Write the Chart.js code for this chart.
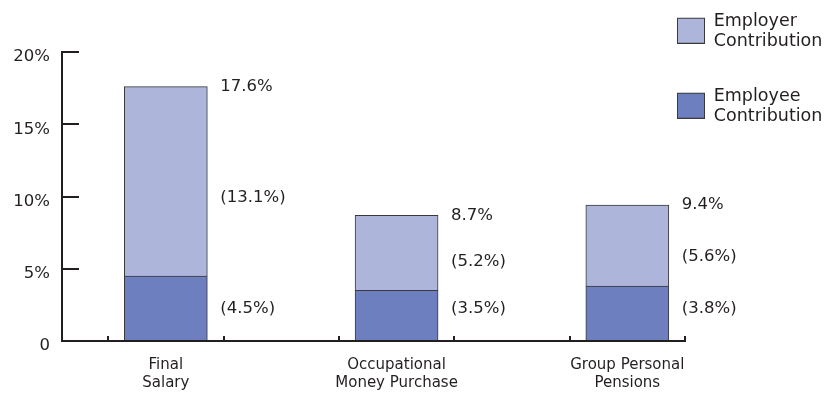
<!DOCTYPE html>
<html><head><meta charset="utf-8">
<script src="https://cdn.jsdelivr.net/npm/chart.js@4.4.1/dist/chart.umd.min.js"></script>
<style>html,body{margin:0;padding:0;background:#fff}#wrap{width:827px;height:393px;position:relative}</style>
</head><body><div id="wrap"><canvas id="c"></canvas></div>
<script>
// ---- data ----
const categories = [['Final', 'Salary'], ['Occupational', 'Money Purchase'], ['Group Personal', 'Pensions']];
const employee = [4.5, 3.5, 3.8];
const employer = [13.1, 5.2, 5.6];
const yTicks = [0, 5, 10, 15, 20];
const seriesNames = [['Employee', 'Contribution'], ['Employer', 'Contribution']];

// ---- styles ----
const FONT = "'DejaVu Sans', 'Open Sans', sans-serif";
const TEXT = '#231f20';
const AXIS = '#231f20';
const EDGE = '#3a3a3a';
const COL_EMPLOYEE = '#6d7fbe';
const COL_EMPLOYER = '#aeb5db';

// each category occupies two x units: tick at 2i, bar/label at 2i+0.5, tick at 2i+1
function slotX(i) { return 2 * i + 0.5; }
const xTickValues = [];
categories.forEach((c, i) => { xTickValues.push(2 * i, 2 * i + 0.5, 2 * i + 1); });
const xMax = 2 * categories.length - 1;

function swatch(fill, stroke) {
  const c = document.createElement('canvas');
  c.width = 28; c.height = 44;
  const g = c.getContext('2d');
  g.fillStyle = fill; g.fillRect(0, 18, 28, 26);
  g.strokeStyle = stroke; g.lineWidth = 1; g.strokeRect(0.5, 18.5, 27, 25);
  return c;
}

const barLabels = {
  id: 'barLabels',
  afterDatasetsDraw(chart) {
    const ctx = chart.ctx, y = chart.scales.y;
    const m1 = chart.getDatasetMeta(1);
    const rowY = y.getPixelForValue(Math.max(...employee) / 2);
    ctx.save();
    ctx.font = "16.5px " + FONT;
    ctx.fillStyle = TEXT; ctx.textAlign = 'left'; ctx.textBaseline = 'middle';
    categories.forEach((c, i) => {
      const b1 = m1.data[i];
      const x = b1.x + b1.width / 2 + 13;
      const topY = b1.y;
      ctx.fillText((employee[i] + employer[i]).toFixed(1) + '%', x, topY);
      ctx.fillText('(' + employer[i].toFixed(1) + '%)', x, (topY + rowY) / 2);
      ctx.fillText('(' + employee[i].toFixed(1) + '%)', x, rowY);
    });
    ctx.restore();
  }
};

const legendPlace = {
  id: 'legendPlace',
  afterLayout(chart) {
    const lg = chart.legend; if (!lg) return;
    const pad = lg.options.labels.padding;
    lg.left = 677 - pad; lg.top = 13 - pad;
    lg.right = chart.width; lg.bottom = chart.height;
    lg.width = lg.right - lg.left; lg.height = lg.bottom - lg.top;
  }
};

new Chart(document.getElementById('c'), {
  type: 'bar',
  data: {
    datasets: [
      { label: seriesNames[0].join(' '), data: employee.map((v, i) => ({ x: slotX(i), y: v })),
        backgroundColor: COL_EMPLOYEE, borderColor: EDGE, borderWidth: 1, barThickness: 83 },
      { label: seriesNames[1].join(' '), data: employer.map((v, i) => ({ x: slotX(i), y: v })),
        backgroundColor: COL_EMPLOYER, borderColor: EDGE, borderWidth: 1, barThickness: 83 }
    ]
  },
  options: {
    responsive: true, maintainAspectRatio: false, animation: false, devicePixelRatio: 1, events: [],
    layout: { padding: { top: 52, right: 142, bottom: 0, left: 0 } },
    scales: {
      x: {
        type: 'linear', stacked: true, offset: false, bounds: 'data', min: -0.4, max: xMax,
        afterBuildTicks: s => { s.ticks = xTickValues.map(v => ({ value: v })); },
        afterFit: s => { s.height = 52; },
        grid: { display: true, drawOnChartArea: false, drawTicks: true, tickLength: -5, lineWidth: 2, offset: false,
          color: 'rgba(0,0,0,0)',
          tickColor: c => (c.tick && Number.isInteger(c.tick.value)) ? AXIS : 'rgba(0,0,0,0)' },
        border: { display: true, color: AXIS, width: 2 },
        ticks: { autoSkip: false, maxRotation: 0, minRotation: 0, padding: 20, color: TEXT,
          font: { family: FONT, size: 15, lineHeight: '18px' },
          callback: v => { const i = (v - 0.5) / 2; return (Number.isInteger(i) && categories[i]) ? categories[i] : ''; } }
      },
      y: {
        stacked: true, min: 0, max: 20,
        afterBuildTicks: s => { s.ticks = yTicks.map(v => ({ value: v })); },
        afterFit: s => { s.width = 62; },
        grid: { display: true, drawOnChartArea: false, drawTicks: true, tickLength: -17, lineWidth: 2, color: AXIS },
        border: { display: true, color: AXIS, width: 2 },
        ticks: { padding: 29, labelOffset: 5, color: TEXT, font: { family: FONT, size: 16.5 },
          callback: v => v === 0 ? '0' : v + '%' }
      }
    },
    plugins: {
      tooltip: { enabled: false },
      legend: {
        position: 'chartArea', align: 'start',
        labels: {
          usePointStyle: true, pointStyleWidth: 28, padding: 35, color: TEXT,
          font: { family: FONT, size: 17.5, lineHeight: '20px' },
          generateLabels: chart => [1, 0].map(i => {
            const ds = chart.data.datasets[i];
            return { text: seriesNames[i], pointStyle: swatch(ds.backgroundColor, ds.borderColor),
              datasetIndex: i, lineWidth: 0, hidden: false, fontColor: TEXT };
          })
        }
      }
    }
  },
  plugins: [barLabels, legendPlace]
});
</script>
</body></html>
